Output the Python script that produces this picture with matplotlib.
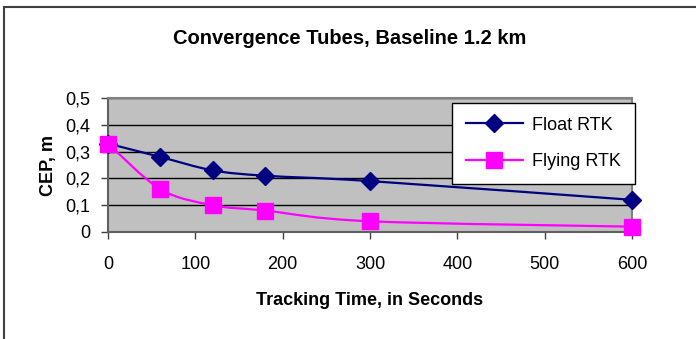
import matplotlib
matplotlib.use("Agg")
import matplotlib.pyplot as plt
from matplotlib.path import Path
from matplotlib.patches import PathPatch
from matplotlib.lines import Line2D
import numpy as np

plt.rcParams['font.family'] = ['Liberation Sans Narrow', 'Liberation Sans', 'DejaVu Sans']

# data
time_s = [0, 60, 120, 180, 300, 600]
float_rtk = [0.33, 0.28, 0.23, 0.21, 0.19, 0.12]
flying_rtk = [0.33, 0.16, 0.10, 0.08, 0.04, 0.02]
x_ticks = [0, 100, 200, 300, 400, 500, 600]
y_ticks = [0, 0.1, 0.2, 0.3, 0.4, 0.5]
y_labels = ["0", "0,1", "0,2", "0,3", "0,4", "0,5"]

NAVY = "#000080"
MAGENTA = "#FF00FF"


def smooth_path(xs, ys):
    """Excel-like smoothed line: cubic bezier with catmull-rom control points"""
    pts = np.column_stack([xs, ys]).astype(float)
    verts = [pts[0]]
    codes = [Path.MOVETO]
    n = len(pts)
    for i in range(n - 1):
        p0 = pts[i - 1] if i > 0 else pts[i]
        p1 = pts[i]
        p2 = pts[i + 1]
        p3 = pts[i + 2] if i + 2 < n else pts[i + 1]
        c1 = p1 + (p2 - p0) / 6.0
        c2 = p2 - (p3 - p1) / 6.0
        verts += [c1, c2, p2]
        codes += [Path.CURVE4] * 3
    return Path(verts, codes)


fig = plt.figure(figsize=(6.96, 3.39), dpi=100)
ax = fig.add_axes([108 / 696, 1 - 232 / 339, (632 - 108) / 696, (232 - 98) / 339])
ax.set_facecolor("#C0C0C0")

ax.set_xlim(0, 600)
ax.set_ylim(0, 0.5)
ax.set_yticks(y_ticks)
ax.set_yticklabels(y_labels)
ax.set_xticks(x_ticks)
for y in y_ticks[1:]:
    ax.axhline(y, color="black", lw=1, zorder=1)

for s in ["top", "right"]:
    ax.spines[s].set_color("#808080")
    ax.spines[s].set_linewidth(1.5)
for s in ["left", "bottom"]:
    ax.spines[s].set_color("#606060")
    ax.spines[s].set_linewidth(1.5)
ax.tick_params(axis="both", labelsize=13, length=5, width=1, color="#404040")
ax.tick_params(axis="x", pad=12)
ax.tick_params(axis="y", pad=8)

ax.add_patch(PathPatch(smooth_path(time_s, float_rtk), fill=False,
                       edgecolor=NAVY, lw=1.6, zorder=3, clip_on=False))
ax.add_patch(PathPatch(smooth_path(time_s, flying_rtk), fill=False,
                       edgecolor=MAGENTA, lw=1.6, zorder=3, clip_on=False))
ax.plot(time_s, float_rtk, ls="none", marker="D", ms=9, color=NAVY,
        zorder=4, clip_on=False)
ax.plot(time_s, flying_rtk, ls="none", marker="s", ms=12, color=MAGENTA,
        zorder=5, clip_on=False)

ax.set_xlabel("Tracking Time, in Seconds", fontsize=13, fontweight="bold", labelpad=14)
ax.set_ylabel("CEP, m", fontsize=13, fontweight="bold", labelpad=6)
fig.text(0.503, 1 - 38 / 339, "Convergence Tubes, Baseline 1.2 km",
         ha="center", va="center", fontsize=14.5, fontweight="bold")

handles = [
    Line2D([], [], color=NAVY, lw=1.6, marker="D", ms=9),
    Line2D([], [], color=MAGENTA, lw=1.6, marker="s", ms=12),
]
leg = fig.legend(handles, ["Float RTK", "Flying RTK"],
                 loc="upper left", bbox_to_anchor=(452 / 696, 1 - 103 / 339),
                 fontsize=13, frameon=True, fancybox=False, handlelength=3.2,
                 borderpad=0.75, labelspacing=1.1, borderaxespad=0,
                 handletextpad=0.5, framealpha=1)
leg.get_frame().set_edgecolor("black")
leg.get_frame().set_linewidth(1)

# outer chart border (only top and left visible in the reference)
fig.add_artist(Line2D([4 / 696, 4 / 696], [0, 1 - 7 / 339], color="#404040", lw=1.5))
fig.add_artist(Line2D([4 / 696, 1], [1 - 7 / 339, 1 - 7 / 339], color="#404040", lw=1.5))

fig.savefig("out.png", dpi=100)
